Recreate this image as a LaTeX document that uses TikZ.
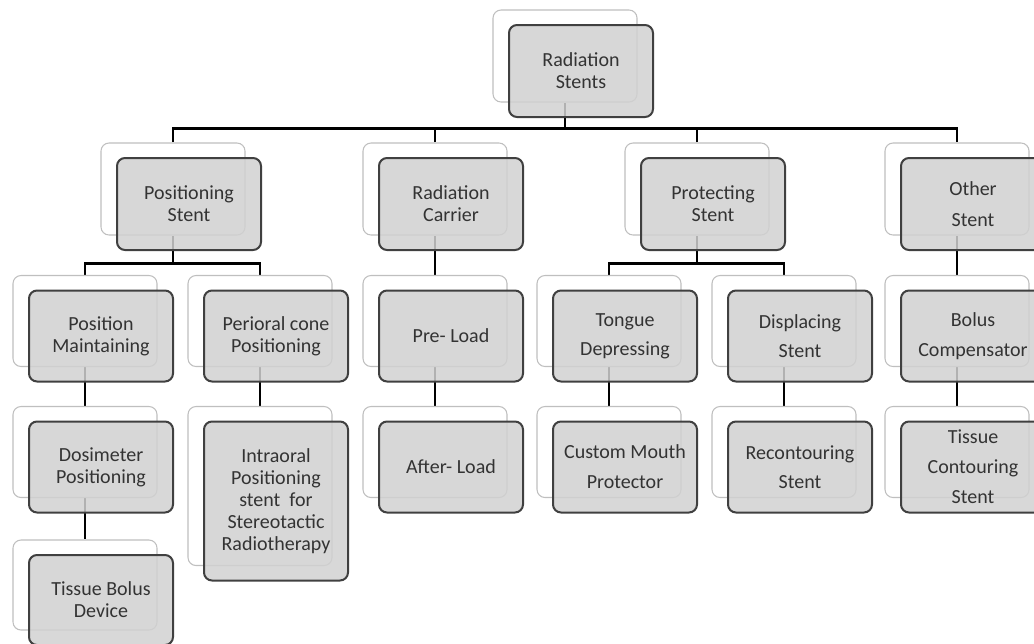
\documentclass[tikz,border=0pt]{standalone}
\usepackage{fontspec}
\setmainfont{Carlito}
\usetikzlibrary{backgrounds}
\tikzset{backbox/.style = {draw=black!25, line width=0.8pt, fill=white,
                           rounded corners=6pt, minimum width=108pt, inner sep=0pt},
         frontbox/.style = {draw=black!75, line width=1.5pt, fill=black!18,
                            fill opacity=0.85, text opacity=1, text=black!80,
                            rounded corners=6pt, minimum width=108pt, inner sep=0pt,
                            align=center, font=\fontsize{15}{16.5}\selectfont},
         stentline/.style = {draw=black, line width=2.2pt}}

\begin{document}
\begin{tikzpicture}[x=0.75pt, y=-0.75pt]
      \path[use as bounding box] (0, 0) rectangle (1034, 643);
      \clip (0, 0) rectangle (1034, 643);

      \foreach \n/\x/\y/\h/\t in {root/565/56/92/{Radiation\\Stents},
                                  ps/173/189/92/{Positioning\\Stent},
                                  rc/435/189/92/{Radiation\\Carrier},
                                  pt/697/189/92/{Protecting\\Stent},
                                  os/957/189/92/{Other\\[7pt]Stent},
                                  pm/85/321/91/{Position\\Maintaining},
                                  pc/260/321/91/{Perioral cone\\Positioning},
                                  pl/435/321/91/{Pre- Load},
                                  td/609/321/91/{Tongue\\[5pt]Depressing},
                                  ds/784/321/91/{Displacing\\[5pt]Stent},
                                  bc/957/321/91/{Bolus\\[6pt]Compensator},
                                  dp/85/452/91/{Dosimeter\\Positioning},
                                  io/260/486/159/{Intraoral\\Positioning\\stent\ \ for\\Stereotactic\\Radiotherapy},
                                  al/435/452/91/{After- Load},
                                  cm/609/452/91/{Custom Mouth\\[6pt]Protector},
                                  rs/784/452/91/{Recontouring\\[5pt]Stent},
                                  tc/957/452/91/{Tissue\\[6pt]Contouring\\[6pt]Stent},
                                  tb/85/585/90/{Tissue Bolus\\Device}} {
        \node [backbox, minimum height=\h*0.75pt] (\n) at (\x, \y) {};
        \node [frontbox, minimum height=\h*0.75pt] (\n-f) at (\x+16, \y+15) {\t};
      }

      \begin{pgfonlayer}{background}
        \draw [stentline] (root.south) -- ++(0, 26) coordinate (bus);
        \draw [stentline] (ps.north) |- (bus) -| (os.north);
        \draw [stentline] (rc.north) -- (rc.north |- bus);
        \draw [stentline] (pt.north) -- (pt.north |- bus);

        \draw [stentline] (ps.south) -- ++(0, 28) coordinate (psbus);
        \draw [stentline] (pm.north) |- (psbus) -| (pc.north);
        \draw [stentline] (pt.south) -- ++(0, 28) coordinate (ptbus);
        \draw [stentline] (td.north) |- (ptbus) -| (ds.north);
        \draw [stentline] (rc.south) -- (pl.north);
        \draw [stentline] (os.south) -- (bc.north);

        \draw [stentline] (pm.south) -- (dp.north);
        \draw [stentline] (pc.south) -- (io.north);
        \draw [stentline] (pl.south) -- (al.north);
        \draw [stentline] (td.south) -- (cm.north);
        \draw [stentline] (ds.south) -- (rs.north);
        \draw [stentline] (bc.south) -- (tc.north);
        \draw [stentline] (dp.south) -- (tb.north);
      \end{pgfonlayer}
    \end{tikzpicture}
\end{document}
